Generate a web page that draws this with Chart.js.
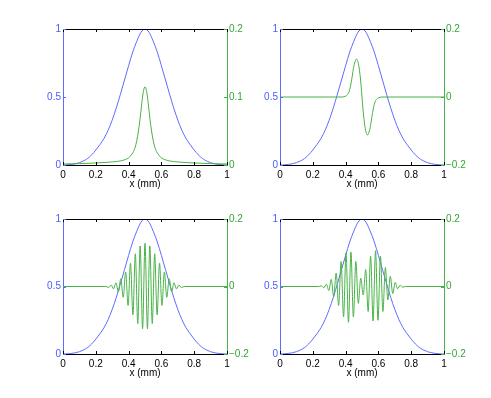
<!DOCTYPE html>
<html>
<head>
<meta charset="utf-8">
<script src="https://cdn.jsdelivr.net/npm/chart.js@4.4.1/dist/chart.umd.min.js"></script>
<style>
  html, body { margin: 0; padding: 0; background: #fff; }
  #wrap { position: relative; width: 491px; height: 398px; }
  #wrap canvas { position: absolute; left: 0; top: 0; }
</style>
</head>
<body>
<div id="wrap">
  <canvas id="c1" width="491" height="398"></canvas>
  <canvas id="c2" width="491" height="398"></canvas>
  <canvas id="c3" width="491" height="398"></canvas>
  <canvas id="c4" width="491" height="398"></canvas>
</div>
<script>
// --- Data ---

// blue curve, same in all four panels (left axis 0..1)
const blueX = [0, 0.025, 0.05, 0.075, 0.1, 0.125, 0.15, 0.175, 0.2, 0.225, 0.25, 0.275, 0.3, 0.325, 0.35, 0.375, 0.4, 0.425, 0.45, 0.475, 0.5,
               0.525, 0.55, 0.575, 0.6, 0.625, 0.65, 0.675, 0.7, 0.725, 0.75, 0.775, 0.8, 0.825, 0.85, 0.875, 0.9, 0.925, 0.95, 0.975, 1];
const blueY = [0, 0.001, 0.004, 0.009, 0.017, 0.03, 0.048, 0.075, 0.11, 0.15, 0.195, 0.255, 0.33, 0.42, 0.52, 0.625, 0.73, 0.83, 0.91, 0.975, 1,
               0.975, 0.91, 0.83, 0.73, 0.625, 0.52, 0.42, 0.33, 0.255, 0.195, 0.15, 0.11, 0.075, 0.048, 0.03, 0.017, 0.009, 0.004, 0.001, 0];

// top left: peak
const tlX = [0, 0.1, 0.2, 0.3, 0.35, 0.38, 0.4, 0.42, 0.43, 0.44, 0.45, 0.46, 0.47, 0.48, 0.49, 0.5,
             0.51, 0.52, 0.53, 0.54, 0.55, 0.56, 0.57, 0.58, 0.6, 0.62, 0.65, 0.7, 0.8, 0.9, 1];
const tlY = [0.0015, 0.002, 0.003, 0.0045, 0.006, 0.008, 0.0105, 0.016, 0.02, 0.026, 0.036, 0.05, 0.068, 0.09, 0.108, 0.115,
             0.108, 0.09, 0.068, 0.05, 0.036, 0.026, 0.02, 0.016, 0.0105, 0.008, 0.006, 0.0045, 0.003, 0.002, 0.0015];

// top right: up / down
const trX = [0, 0.3, 0.38, 0.39, 0.4, 0.41, 0.42, 0.43, 0.44, 0.45, 0.46, 0.465, 0.47, 0.475, 0.48, 0.485, 0.49, 0.495, 0.5,
             0.505, 0.51, 0.515, 0.52, 0.525, 0.53, 0.535, 0.54, 0.55, 0.56, 0.57, 0.58, 0.59, 0.6, 0.61, 0.62, 0.7, 1];
const trY = [0, 0, 0, 0.001, 0.0025, 0.006, 0.014, 0.032, 0.06, 0.09, 0.107, 0.112, 0.11, 0.104, 0.093, 0.077, 0.056, 0.03, 0,
             -0.03, -0.056, -0.077, -0.093, -0.104, -0.11, -0.112, -0.107, -0.09, -0.06, -0.032, -0.014, -0.006, -0.0025, -0.001, 0, 0, 0];

// bottom left: wave packet (peaks and troughs)
const blX = [0, 0.26, 0.2788, 0.2935, 0.3083, 0.3230, 0.3378, 0.3525, 0.3673, 0.3820, 0.3968, 0.4115, 0.4263, 0.4410, 0.4558, 0.4705, 0.4853, 0.5,
             0.5148, 0.5295, 0.5443, 0.5590, 0.5738, 0.5885, 0.6033, 0.6180, 0.6328, 0.6475, 0.6623, 0.6770, 0.6918, 0.7065, 0.7213, 0.74, 1];
const blY = [0, 0, -0.003, 0.0045, -0.007, 0.011, -0.016, 0.023, -0.032, 0.043, -0.056, 0.069, -0.084, 0.097, -0.11, 0.12, -0.125, 0.128,
             -0.125, 0.12, -0.11, 0.097, -0.084, 0.069, -0.056, 0.043, -0.032, 0.023, -0.016, 0.011, -0.007, 0.0045, -0.003, 0, 0];

// bottom right: two lobes
const brX = [0, 0.235, 0.2525, 0.2675, 0.2825, 0.2975, 0.3125, 0.3275, 0.3425, 0.3575, 0.3725, 0.3875, 0.4025, 0.4175, 0.4325, 0.4475, 0.4625, 0.4775, 0.4925,
             0.5075, 0.5225, 0.5375, 0.5525, 0.5675, 0.5825, 0.5975, 0.6125, 0.6275, 0.6425, 0.6575, 0.6725, 0.6875, 0.7025, 0.7175, 0.7325, 0.7475, 0.765, 1];
const brY = [0, 0, 0.002, -0.004, 0.007, -0.012, 0.021, -0.03, 0.04, -0.056, 0.074, -0.09, 0.1, -0.106, 0.102, -0.09, 0.074, -0.05, 0.025,
             -0.025, 0.05, -0.074, 0.09, -0.102, 0.106, -0.1, 0.09, -0.074, 0.056, -0.04, 0.03, -0.021, 0.012, -0.007, 0.004, -0.002, 0, 0];

const BLUE = '#5d6cff';
const BLUE_TXT = '#4a5bff';
const GREEN = '#47b347';
const GREEN_TXT = '#36a436';
const FONT = { family: '"Liberation Sans", Arial, sans-serif', size: 10 };

// top border + small inward ticks (matlab style)
const framePlugin = {
    id: 'frame',
    afterDraw(chart) {
        const ctx = chart.ctx;
        const a = chart.chartArea;
        const s = chart.scales;
        const len = 3;
        ctx.save();
        ctx.lineWidth = 1;

        ctx.strokeStyle = '#000';
        ctx.beginPath();
        ctx.moveTo(a.left, a.top + 0.5);
        ctx.lineTo(a.right + 1, a.top + 0.5);
        s.x.ticks.forEach(t => {
            const px = Math.round(s.x.getPixelForValue(t.value)) + 0.5;
            ctx.moveTo(px, a.bottom);
            ctx.lineTo(px, a.bottom - len);
            ctx.moveTo(px, a.top);
            ctx.lineTo(px, a.top + len);
        });
        ctx.stroke();

        ctx.strokeStyle = BLUE;
        ctx.beginPath();
        s.y.ticks.forEach(t => {
            const py = Math.round(s.y.getPixelForValue(t.value)) + 0.5;
            ctx.moveTo(a.left, py);
            ctx.lineTo(a.left + len, py);
        });
        ctx.stroke();

        ctx.strokeStyle = GREEN;
        ctx.beginPath();
        s.y2.ticks.forEach(t => {
            const py = Math.round(s.y2.getPixelForValue(t.value)) + 0.5;
            ctx.moveTo(a.right, py);
            ctx.lineTo(a.right - len, py);
        });
        ctx.stroke();
        ctx.restore();
    }
};

function toPoints(xs, ys) {
    return xs.map((x, i) => ({ x: x, y: ys[i] }));
}

// matlab style labels: 0, 0.5, 1, −0.2
function fmtTick(v) {
    const n = Number(v.toFixed(3));
    return n < 0 ? '\u2212' + Math.abs(n) : String(n);
}

function makeChart(id, pad, gx, gy, y2Min, y2Max, y2Step) {
    return new Chart(document.getElementById(id), {
        type: 'line',
        data: {
            datasets: [
                {
                    data: toPoints(gx, gy),
                    yAxisID: 'y2',
                    borderColor: GREEN,
                    borderWidth: 1,
                    pointRadius: 0,
                    cubicInterpolationMode: 'monotone',
                    fill: false
                },
                {
                    data: toPoints(blueX, blueY),
                    yAxisID: 'y',
                    borderColor: BLUE,
                    borderWidth: 1,
                    pointRadius: 0,
                    cubicInterpolationMode: 'monotone',
                    fill: false
                }
            ]
        },
        options: {
            responsive: false,
            animation: false,
            events: [],
            layout: { padding: pad },
            plugins: {
                legend: { display: false },
                tooltip: { enabled: false }
            },
            scales: {
                x: {
                    type: 'linear', min: 0, max: 1,
                    ticks: { stepSize: 0.2, color: '#000', padding: 4, font: FONT, callback: fmtTick },
                    grid: { display: false, drawTicks: false },
                    border: { color: '#000', width: 1 },
                    title: { display: true, text: 'x (mm)', color: '#000', font: FONT, padding: 0 },
                    afterFit(sc) { sc.height = 25; }
                },
                y: {
                    type: 'linear', position: 'left', min: 0, max: 1,
                    ticks: { stepSize: 0.5, color: BLUE_TXT, padding: 2, font: FONT, callback: fmtTick },
                    grid: { display: false, drawTicks: false },
                    border: { color: BLUE, width: 1 },
                    afterFit(sc) { sc.width = 30; }
                },
                y2: {
                    type: 'linear', position: 'right', min: y2Min, max: y2Max,
                    ticks: { stepSize: y2Step, color: GREEN_TXT, padding: 2, font: FONT, callback: fmtTick },
                    grid: { display: false, drawTicks: false },
                    border: { color: GREEN, width: 1 },
                    afterFit(sc) { sc.width = 30; }
                }
            }
        },
        plugins: [framePlugin]
    });
}

makeChart('c1', { left: 33, right: 234, top: 29, bottom: 208 }, tlX, tlY, 0, 0.2, 0.1);
makeChart('c2', { left: 250, right: 17, top: 29, bottom: 208 }, trX, trY, -0.2, 0.2, 0.2);
makeChart('c3', { left: 33, right: 234, top: 219, bottom: 19 }, blX, blY, -0.2, 0.2, 0.2);
makeChart('c4', { left: 250, right: 17, top: 219, bottom: 19 }, brX, brY, -0.2, 0.2, 0.2);
</script>
</body>
</html>
